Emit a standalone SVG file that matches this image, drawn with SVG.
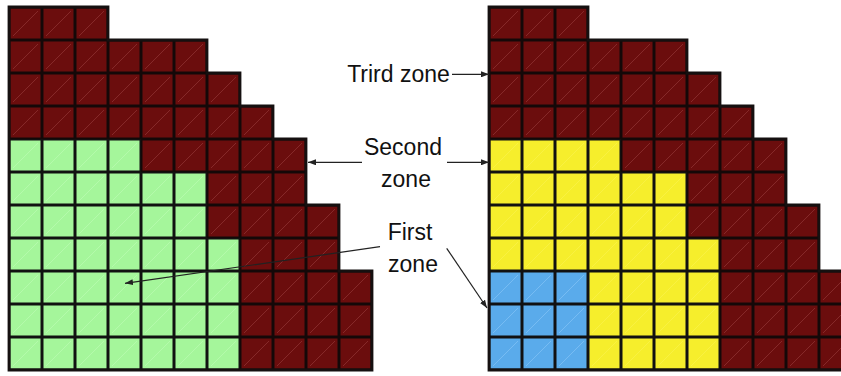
<svg xmlns="http://www.w3.org/2000/svg" width="841" height="376" viewBox="0 0 841 376">
<style>
.lbl{font-family:"Liberation Sans","Arial",sans-serif;font-size:23px;fill:#111;text-anchor:middle}
.arr{stroke:#222;stroke-width:1.2;fill:none;marker-end:url(#ah)}
.outline{fill:none;stroke:#151010;stroke-width:2.8;stroke-linejoin:miter}
</style>
<defs>
<marker id="ah" markerUnits="userSpaceOnUse" markerWidth="8" markerHeight="6" refX="8" refY="3" orient="auto">
<path d="M0,0 L8,3 L0,6 Z" fill="#222"/>
</marker>
<pattern id="pm" patternUnits="userSpaceOnUse" x="9" y="7" width="33" height="33">
<rect width="33" height="33" fill="#6b0d0d"/>
<line x1="4" y1="29" x2="29" y2="4" stroke="#b05555" stroke-width="0.7" opacity="0.55"/>
<rect width="33" height="33" fill="none" stroke="#140808" stroke-width="3"/>
</pattern>
<pattern id="pg" patternUnits="userSpaceOnUse" x="9" y="7" width="33" height="33">
<rect width="33" height="33" fill="#a5f69b"/>
<line x1="4" y1="29" x2="29" y2="4" stroke="#c8ffc0" stroke-width="0.7" opacity="0.6"/>
<rect width="33" height="33" fill="none" stroke="#111" stroke-width="3"/>
</pattern>
<pattern id="py" patternUnits="userSpaceOnUse" x="9" y="7" width="33" height="33">
<rect width="33" height="33" fill="#f6ee2c"/>
<line x1="4" y1="29" x2="29" y2="4" stroke="#fff66a" stroke-width="0.7" opacity="0.5"/>
<rect width="33" height="33" fill="none" stroke="#111" stroke-width="3"/>
</pattern>
<pattern id="pb" patternUnits="userSpaceOnUse" x="9" y="7" width="33" height="33">
<rect width="33" height="33" fill="#5aabeb"/>
<line x1="4" y1="29" x2="29" y2="4" stroke="#9fd4ff" stroke-width="0.7" opacity="0.6"/>
<rect width="33" height="33" fill="none" stroke="#111" stroke-width="3"/>
</pattern>
<path id="stair" d="M9,7 H108 V40 H207 V73 H240 V106 H273 V139 H306 V205 H339 V271 H372 V370 H9 Z"/>
<path id="zone2" d="M9,139 H141 V172 H207 V238 H240 V370 H9 Z"/>
</defs>

<g id="left-grid">
<use href="#stair" fill="url(#pm)"/>
<use href="#zone2" fill="url(#pg)"/>
<use href="#stair" class="outline"/>
</g>

<g id="right-grid" transform="translate(480,0)">
<use href="#stair" fill="url(#pm)"/>
<use href="#zone2" fill="url(#py)"/>
<path d="M9,271 H108 V370 H9 Z" fill="url(#pb)"/>
<use href="#stair" class="outline"/>
</g>

<g id="label-third">
<text class="lbl" x="398.5" y="81.5">Trird zone</text>
</g>
<g id="label-second">
<text class="lbl" x="403" y="155">Second</text>
<text class="lbl" x="406" y="187">zone</text>
</g>
<g id="label-first">
<text class="lbl" x="410" y="240">First</text>
<text class="lbl" x="413" y="272">zone</text>
</g>

<g id="connectors">
<line class="arr" x1="452" y1="74.3" x2="489" y2="74.3"/>
<line class="arr" x1="362" y1="162.3" x2="308" y2="162.3"/>
<line class="arr" x1="447" y1="162.3" x2="489" y2="162.3"/>
<line class="arr" x1="380" y1="246.7" x2="125" y2="283.3"/>
<line class="arr" x1="446.7" y1="248.3" x2="487" y2="308"/>
</g>
</svg>
